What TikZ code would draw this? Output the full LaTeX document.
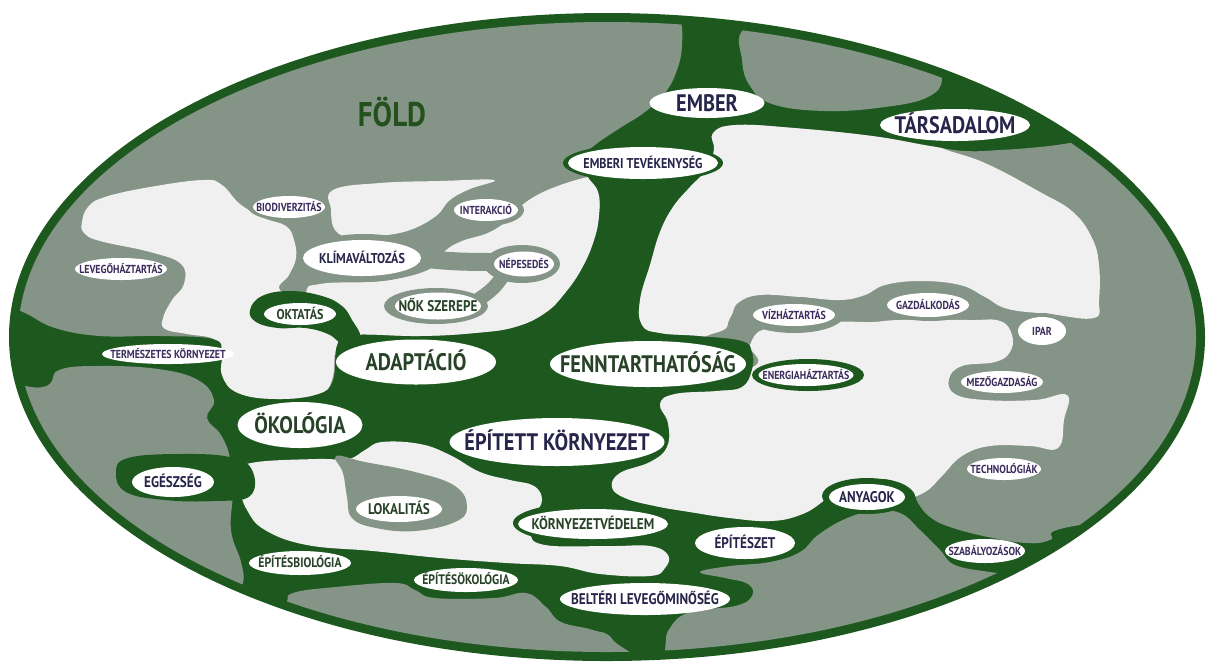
\documentclass[tikz,border=0pt]{standalone}
\usepackage{fontspec}
\setmainfont{PT Sans}[FakeStretch=0.85]
\usetikzlibrary{shapes.geometric}
\definecolor{grn}{RGB}{29,89,30}
\definecolor{gry}{RGB}{132,148,135}
\definecolor{lgt}{RGB}{240,240,240}
\definecolor{navy}{RGB}{40,37,75}
\definecolor{dgt}{RGB}{40,66,40}
\definecolor{purp}{RGB}{58,44,92}
\definecolor{foldc}{RGB}{36,80,30}
\newcommand\zt[1]{\makebox[0pt]{#1}}
\tikzset{
  lab/.style n args={2}{ellipse, fill=white, draw=none, minimum width=#1*0.02cm,
    minimum height=#2*0.02cm, inner sep=0pt, text depth=0pt},
  big/.style={font=\fontsize{13.6}{14}\selectfont\bfseries, text height=9.5pt},
  med/.style={font=\fontsize{8.8}{9}\selectfont\bfseries, text height=6.2pt},
  mes/.style={font=\fontsize{8.1}{8}\selectfont\bfseries, text height=5.7pt},
  sml/.style={font=\fontsize{6.6}{7}\selectfont\bfseries, text height=4.6pt},
  smm/.style={font=\fontsize{7.8}{8}\selectfont\bfseries, text height=5.5pt},
  blob/.style={smooth cycle, tension=0.7},
  chan/.style={draw=gry, line cap=round, line width=#1*0.02cm},
}
\begin{document}
\begin{tikzpicture}[x=0.02cm,y=-0.02cm]
\useasboundingbox (0,0) rectangle (1209,664);
\fill[white] (0,0) rectangle (1209,664);
% outer ellipse
\fill[grn] (607,337) ellipse (598 and 324);
\begin{scope}
\clip (607,337) ellipse (589 and 315);
% ---- hole A (upper left)
\begin{scope}
\clip plot[blob] coordinates {(-30,300) (-30,-30) (668,-30) (680,15) (682,45) (677,70) (665,93) (645,112) (620,128) (595,145) (580,160) (587,176) (598,192) (599,215) (594,240) (582,268) (565,293) (545,313) (515,327) (475,333) (420,336) (352,335) (337,345) (333,380) (318,394) (277,399) (238,393) (222,375) (222,352) (213,339) (160,336) (100,336) (55,328) (25,313) (0,304)};
\fill[gry] (-50,-50) rectangle (800,450);
\fill[lgt] plot[blob] coordinates {(82,222) (88,207) (105,197) (150,187) (203,180) (222,185) (240,204) (264,218) (286,226) (294,240) (296,258) (289,275) (280,290) (310,305) (345,330) (336,345) (332,380) (318,394) (277,399) (238,393) (222,375) (222,352) (214,339) (187,334) (165,329) (163,318) (172,300) (184,284) (181,264) (150,252) (100,241) (84,233)};
\fill[lgt] plot[blob] coordinates {(333,190) (380,183) (440,181) (494,180) (470,189) (450,200) (436,216) (410,230) (380,236) (352,238) (335,230) (331,210)};
\fill[lgt] plot[blob] coordinates {(305,296) (320,284) (380,281) (428,270) (445,251) (462,241) (490,232) (513,216) (526,202) (555,187) (597,175) (640,170) (650,350) (300,350)};
\end{scope}
% ---- hole B
\fill[gry] plot[blob] coordinates {(742,60) (745,28) (800,12) (880,18) (930,50) (942,78) (928,97) (885,107) (825,111) (772,104) (750,86)};
% ---- hole C (right)
\begin{scope}
\clip plot[blob] coordinates {(713,133) (736,125) (794,128) (872,136) (930,146) (965,151) (1000,150) (1040,147) (1070,143) (1100,138) (1150,110) (1300,200) (1300,500) (1080,525) (1050,540) (1027,543) (988,537) (950,527) (930,517) (918,503) (912,490) (895,481) (872,479) (840,484) (822,502) (800,515) (770,521) (730,518) (690,512) (655,506) (625,498) (612,487) (620,473) (650,462) (667,447) (668,423) (660,404) (675,394) (717,391) (742,387) (752,370) (752,352) (742,341) (700,336) (660,333) (642,325) (640,300) (650,265) (660,232) (673,207) (690,187) (706,170) (714,150)};
\fill[gry] (600,50) rectangle (1250,650);
\fill[lgt] plot[blob] coordinates {(690,100) (800,105) (900,120) (935,145) (985,163) (1040,192) (1073,212) (1092,238) (1099,265) (1099,300) (1094,318) (1050,314) (1008,309) (985,297) (960,285) (920,281) (885,285) (865,295) (840,300) (800,297) (760,295) (738,303) (730,318) (715,333) (640,340) (620,200)};
\fill[lgt] plot[blob] coordinates {(762,330) (790,328) (833,322) (872,322) (900,320) (969,320) (1000,321) (1012,335) (1010,352) (995,362) (962,366) (949,379) (955,394) (985,400) (1035,400) (1067,395) (1064,420) (1058,448) (1030,446) (990,446) (962,456) (942,476) (925,492) (900,500) (850,505) (700,540) (600,520) (600,390) (745,370) (750,345)};
\end{scope}
% ---- hole D (light, lower middle)
\fill[lgt] plot[blob] coordinates {(241,470) (257,462) (316,459) (348,459) (365,450) (382,442) (420,444) (450,455) (480,472) (510,480) (534,486) (542,500) (535,515) (530,532) (545,545) (610,546) (650,546) (668,555) (665,568) (650,576) (600,574) (560,566) (507,563) (440,558) (373,551) (307,545) (265,530) (247,510) (240,488)};
\fill[gry] plot[blob] coordinates {(336,456) (365,462) (415,472) (455,486) (467,507) (455,522) (415,531) (376,528) (352,518) (347,497) (343,473)};
% ---- hole E
\fill[gry] plot[blob] coordinates {(43,387) (59,370) (99,366) (158,369) (198,380) (214,400) (207,418) (221,435) (230,458) (233,490) (231,530) (241,562) (243,583) (232,592) (200,600) (100,580) (-20,480) (-20,390)};
% ---- hole F
\fill[gry] plot[blob] coordinates {(285,605) (293,593) (336,587) (395,583) (415,590) (435,598) (494,598) (526,593) (546,607) (561,622) (593,630) (613,640) (630,680) (400,700) (260,640)};
% ---- hole G
\fill[gry] plot[blob] coordinates {(700,572) (730,566) (770,562) (800,552) (818,535) (845,519) (873,511) (900,513) (920,530) (940,550) (955,565) (990,572) (1015,575) (1100,590) (1000,720) (660,720) (665,650) (670,628) (690,612) (735,606) (752,596) (748,584) (725,578)};
\end{scope}
% ---- grey channels and rings
\draw[chan=15] (470,215) .. controls (450,225) and (440,240) .. (420,252);
\draw[chan=18] (420,258) .. controls (450,262) and (470,262) .. (500,262);
\draw[chan=14] (505,272) .. controls (495,290) and (485,295) .. (470,305);
\fill[gry] (289,207) ellipse (41 and 14);
\fill[gry] (486,210) ellipse (38 and 16);
\fill[gry] (364,258) ellipse (66 and 24);
\fill[gry] (121,269) ellipse (50 and 14);
\fill[gry] (522,264) ellipse (38 and 19);
\fill[gry] (436,306) ellipse (52 and 18);
\fill[gry] (794,315) ellipse (50 and 18);
\fill[gry] (930,302) ellipse (52 and 19);
\fill[gry] (1042,331) ellipse (28 and 18);
\fill[gry] (1002,382) ellipse (46 and 15);
\fill[gry] (1004,469) ellipse (41 and 14);
% ---- green overlays
\fill[grn] plot[blob] coordinates {(250,310) (262,296) (290,291) (322,296) (342,306) (352,320) (360,337) (345,345) (328,334) (305,328) (278,328) (256,322)};
\fill[grn] plot[blob] coordinates {(116,472) (128,458) (178,454) (230,457) (252,470) (250,496) (215,501) (165,500) (126,492)};
\fill[grn] (643,163) ellipse (80 and 19);
\fill[grn] (808,375) ellipse (56 and 16);
\fill[grn] (867,496) ellipse (45 and 18);
\fill[grn] (594,523) ellipse (81 and 21);
% ---- labels
\node[font=\fontsize{19.5}{20}\selectfont\bfseries, text=foldc] (fold) at (392,112) {FÖLD};
\node[lab={115}{30}, big, text=navy] (ember) at (707,103) {\zt{EMBER}};
\node[lab={150}{32}, big, text=navy] (tars) at (955,125) {\zt{TÁRSADALOM}};
\node[lab={150}{32}, mes, text=navy] (embtev) at (643,163) {\zt{EMBERI TEVÉKENYSÉG}};
\node[lab={72}{22}, sml, text=purp] (biodiv) at (289,207) {\zt{BIODIVERZITÁS}};
\node[lab={64}{22}, sml, text=purp] (inter) at (486,210) {\zt{INTERAKCIÓ}};
\node[lab={118}{36}, mes, text=navy] (klima) at (362,258) {\zt{KLÍMAVÁLTOZÁS}};
\node[lab={92}{22}, sml, text=purp] (levego) at (121,269) {\zt{LEVEGŐHÁZTARTÁS}};
\node[lab={60}{25}, sml, text=purp] (nepes) at (524,264) {\zt{NÉPESEDÉS}};
\node[lab={72}{22}, mes, text=dgt] (oktatas) at (300,314) {\zt{OKTATÁS}};
\node[lab={86}{27}, med, text=dgt] (nok) at (438,306) {\zt{NŐK SZEREPE}};
\node[lab={132}{20}, sml, text=purp] (termk) at (168,354) {\zt{TERMÉSZETES KÖRNYEZET}};
\node[lab={160}{45}, big, text=dgt] (adapt) at (416,362) {\zt{ADAPTÁCIÓ}};
\node[lab={196}{46}, big, text=dgt] (fennt) at (648,364) {\zt{FENNTARTHATÓSÁG}};
\node[lab={95}{22}, sml, text=purp] (energ) at (806,375) {\zt{ENERGIAHÁZTARTÁS}};
\node[lab={125}{46}, big, text=dgt] (okol) at (300,425) {\zt{ÖKOLÓGIA}};
\node[lab={215}{48}, big, text=navy] (epitett) at (557,442) {\zt{ÉPÍTETT KÖRNYEZET}};
\node[lab={82}{30}, med, text=navy] (egesz) at (173,482) {\zt{EGÉSZSÉG}};
\node[lab={86}{26}, med, text=dgt] (lokal) at (399,509) {\zt{LOKALITÁS}};
\node[lab={150}{30}, med, text=dgt] (kornyv) at (593,524) {\zt{KÖRNYEZETVÉDELEM}};
\node[lab={100}{32}, med, text=navy] (epit) at (745,543) {\zt{ÉPÍTÉSZET}};
\node[lab={76}{26}, med, text=navy] (anyag) at (867,497) {\zt{ANYAGOK}};
\node[lab={74}{22}, sml, text=purp] (techn) at (1004,469) {\zt{TECHNOLÓGIÁK}};
\node[lab={82}{22}, sml, text=purp] (mezo) at (1002,382) {\zt{MEZŐGAZDASÁG}};
\node[lab={48}{28}, sml, text=purp] (ipar) at (1042,331) {\zt{IPAR}};
\node[lab={82}{24}, sml, text=purp] (gazd) at (928,305) {\zt{GAZDÁLKODÁS}};
\node[lab={82}{22}, sml, text=purp] (viz) at (794,315) {\zt{VÍZHÁZTARTÁS}};
\node[lab={80}{24}, sml, text=purp] (szab) at (985,551) {\zt{SZABÁLYOZÁSOK}};
\node[lab={102}{24}, smm, text=dgt] (epbio) at (300,563) {\zt{ÉPÍTÉSBIOLÓGIA}};
\node[lab={104}{24}, smm, text=dgt] (epoko) at (466,580) {\zt{ÉPÍTÉSÖKOLÓGIA}};
\node[lab={170}{32}, med, text=navy] (belteri) at (645,599) {\zt{BELTÉRI LEVEGŐMINŐSÉG}};
\end{tikzpicture}
\end{document}
